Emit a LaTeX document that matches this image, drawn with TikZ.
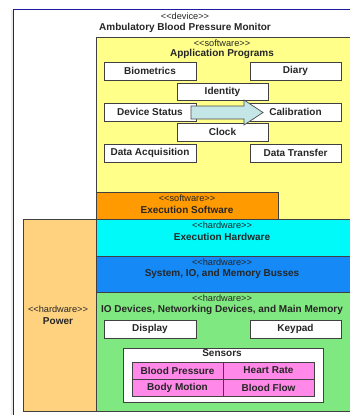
\documentclass[tikz,border=0pt]{standalone}
\usepackage{fontspec}
\setmainfont{Liberation Sans}[Ligatures=NoCommon]
\usetikzlibrary{calc}
\newcommand{\stereo}[1]{<{}<#1>{}>}
\begin{document}
\begin{tikzpicture}[x=1pt,y=-1pt,
  lbl/.style={font=\fontsize{10}{11}\selectfont\bfseries, text=black!85},
  ster/.style={font=\fontsize{9.2}{10}\selectfont, text=black!85},
  area/.style={draw=black!75, line width=0.8pt},
  wbox/.style={draw=black!75, line width=0.8pt, fill=white},
]
\definecolor{frameblue}{HTML}{1C1CA0}
\definecolor{appyellow}{HTML}{FFFF8A}
\definecolor{exorange}{HTML}{FF9A00}
\definecolor{excyan}{HTML}{00FAFA}
\definecolor{busblue}{HTML}{1589F5}
\definecolor{iogreen}{HTML}{80E880}
\definecolor{powerorange}{HTML}{FFD280}
\definecolor{sensorpink}{HTML}{FF88E8}
\definecolor{arrowfill}{HTML}{C4E6E6}
\useasboundingbox (0,0) rectangle (350,415);
\fill[white] (0,0) rectangle (350,415);
% shadow
\fill[black!8] (11,10) rectangle (12.5,420);
% frame
\draw[frameblue, line width=1.8pt] (13.5,420) -- (13.5,9.5) -- (360,9.5);
\node[ster] (devst) at (185,16) {\stereo{device}};
\node[lbl] (devname) at (185,28) {Ambulatory Blood Pressure Monitor};
% application programs
\filldraw[area, fill=appyellow] (96,37) rectangle (360,219);
\node[ster] (appst) at (222,43) {\stereo{software}};
\node[lbl] (apptitle) at (222,54) {Application Programs};
\node[wbox, lbl, minimum width=92pt, minimum height=18pt, inner sep=0pt] (bio) at (150,71) {Biometrics};
\node[wbox, lbl, minimum width=91pt, minimum height=18pt, inner sep=0pt] (diary) at (295.5,71) {Diary};
\node[wbox, lbl, minimum width=91pt, minimum height=17pt, inner sep=0pt] (ident) at (222.5,91.5) {Identity};
\node[wbox, lbl, minimum width=92pt, minimum height=18pt, inner sep=0pt] (devstat) at (150,112) {Device Status};
\node[wbox, lbl, minimum width=91pt, minimum height=18pt, inner sep=0pt] (calib) at (295.5,112) {Calibration};
\node[wbox, lbl, minimum width=91pt, minimum height=18pt, inner sep=0pt] (clock) at (222.5,132) {Clock};
\node[wbox, lbl, minimum width=92pt, minimum height=18pt, inner sep=0pt] (dacq) at (150,153) {Data Acquisition};
\node[wbox, lbl, minimum width=91pt, minimum height=18pt, inner sep=0pt] (dtrans) at (295.5,153) {Data Transfer};
% block arrow
\coordinate (arrS) at (191,112.5);
\coordinate (arrT) at (263,112.5);
\filldraw[draw=black!70, line width=0.7pt, fill=arrowfill]
  ($(arrS)+(0,-6.5)$) -- (244,106) -- (244,100) -- (arrT) -- (244,125) -- (244,119) -- ($(arrS)+(0,6.5)$) -- cycle;
% execution software
\filldraw[area, fill=exorange] (96,192) rectangle (278,219);
\node[ster] (exst) at (187,198.5) {\stereo{software}};
\node[lbl] (exname) at (187,209.5) {Execution Software};
% power
\filldraw[area, fill=powerorange] (23,219) rectangle (96,411);
\node[ster] (powst) at (58,309) {\stereo{hardware}};
\node[lbl] (powname) at (58,321) {Power};
% execution hardware
\filldraw[area, fill=excyan] (96,219) rectangle (360,256);
\node[ster] (ehst) at (222,225) {\stereo{hardware}};
\node[lbl] (ehname) at (222,237) {Execution Hardware};
% busses
\filldraw[area, fill=busblue] (96,256) rectangle (360,292);
\node[ster] (busst) at (222,262) {\stereo{hardware}};
\node[lbl] (busname) at (222,273.5) {System, IO, and Memory Busses};
% io devices
\filldraw[area, fill=iogreen] (96,292) rectangle (360,411);
\node[ster] (iost) at (222,298) {\stereo{hardware}};
\node[lbl] (ioname) at (222,310) {IO Devices, Networking Devices, and Main Memory};
\node[wbox, lbl, minimum width=92pt, minimum height=18pt, inner sep=0pt] (disp) at (150,329) {Display};
\node[wbox, lbl, minimum width=91pt, minimum height=18pt, inner sep=0pt] (keyp) at (295.5,329) {Keypad};
% sensors
\filldraw[wbox] (123,348) rectangle (323,402);
\node[lbl] (senst) at (222,353.5) {Sensors};
\filldraw[area, fill=sensorpink] (132,362) rectangle (314,396);
\draw[area] (132,379) -- (314,379) (223,362) -- (223,396);
\node[lbl] (bp) at (177.5,370.5) {Blood Pressure};
\node[lbl] (hr) at (268.5,370.5) {Heart Rate};
\node[lbl] (bm) at (177.5,387.5) {Body Motion};
\node[lbl] (bf) at (268.5,387.5) {Blood Flow};
\end{tikzpicture}
\end{document}
